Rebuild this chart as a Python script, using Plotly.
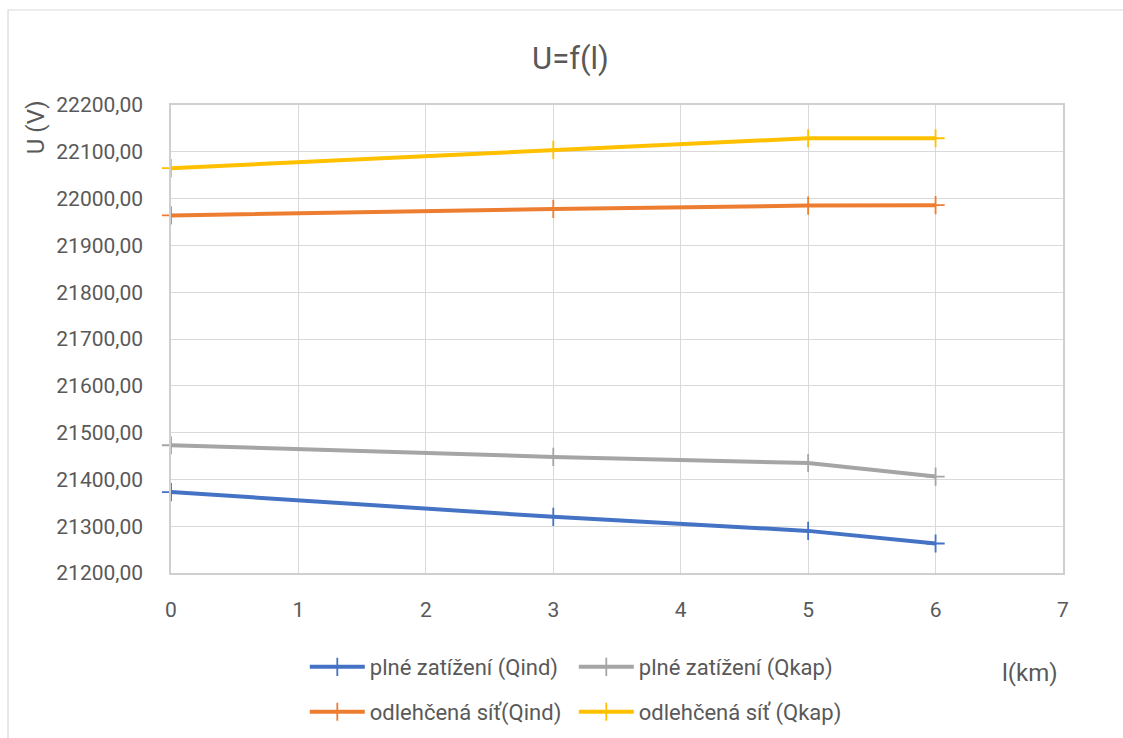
import plotly.graph_objects as go

x_km = [0, 3, 5, 6]
plne_qind = [21373, 21320, 21290, 21263]
plne_qkap = [21473, 21448, 21435, 21406]
odl_qind = [21964, 21978, 21985, 21986]
odl_qkap = [22065, 22104, 22129, 22129]

series = [
    ("plné zatížení (Qind)", plne_qind, "#4472C4", "legend"),
    ("plné zatížení (Qkap)", plne_qkap, "#A5A5A5", "legend"),
    ("odlehčená síť(Qind)", odl_qind, "#ED7D31", "legend2"),
    ("odlehčená síť (Qkap)", odl_qkap, "#FFC000", "legend2"),
]

FONT = "Roboto, Liberation Sans, sans-serif"
TXT = "#595959"

fig = go.Figure()
for name, vals, col, lg in series:
    fig.add_trace(go.Scatter(
        x=x_km, y=vals, name=name, mode="lines+markers",
        line=dict(color=col, width=4),
        marker=dict(symbol="cross-thin", size=13, line=dict(color=col, width=1.8)),
        legend=lg, cliponaxis=False,
    ))

fig.update_layout(
    width=1123, height=738,
    margin=dict(l=171, r=60, t=105, b=165, autoexpand=False),
    paper_bgcolor="white", plot_bgcolor="white",
    font=dict(family=FONT, color=TXT, size=21),
    separators=", ",
    title=dict(text="U=f(l)", x=0.508, xref="container", y=1 - 58 / 738,
               yanchor="middle", xanchor="center",
               font=dict(size=31, color=TXT, family=FONT)),
    xaxis=dict(range=[0, 7], dtick=1, tick0=0, showgrid=True, gridcolor="#d9d9d9",
               gridwidth=1, showline=True, linecolor="#cfcfcf", linewidth=1.5, mirror=True,
               zeroline=False, ticks="", ticklabelstandoff=17,
               tickfont=dict(size=21, color=TXT)),
    yaxis=dict(range=[21200, 22200], dtick=100, showgrid=True, gridcolor="#d9d9d9",
               gridwidth=1, showline=True, linecolor="#cfcfcf", linewidth=1.5, mirror=True,
               zeroline=False, ticks="", tickformat=".2f", ticklabelstandoff=22,
               tickfont=dict(size=21, color=TXT)),
    legend=dict(orientation="h", x=0.150, y=-0.156, xanchor="left", yanchor="top",
                entrywidth=199, entrywidthmode="pixels", font=dict(size=22, color=TXT),
                itemwidth=55, tracegroupgap=0),
    legend2=dict(orientation="h", x=0.150, y=-0.252, xanchor="left", yanchor="top",
                 entrywidth=199, entrywidthmode="pixels", font=dict(size=22, color=TXT),
                 itemwidth=55, tracegroupgap=0),
    showlegend=True,
)

fig.add_annotation(text="U (V)", textangle=-90, x=-0.1504, y=0.952, xref="paper", yref="paper",
                   xanchor="center", yanchor="middle",
                   showarrow=False, font=dict(size=24, color=TXT, family=FONT))
fig.add_annotation(text="l(km)", x=(1030 - 171) / 892, y=(573 - 673) / 468, xref="paper", yref="paper",
                   xanchor="center", yanchor="middle",
                   showarrow=False, font=dict(size=24, color=TXT, family=FONT))

fig.add_shape(type="rect", xref="paper", yref="paper",
              x0=-0.1827, x1=1.09, y0=-0.4, y1=1.203,
              line=dict(color="#d9d9d9", width=1.2), layer="below")

fig.write_html("out.html")
